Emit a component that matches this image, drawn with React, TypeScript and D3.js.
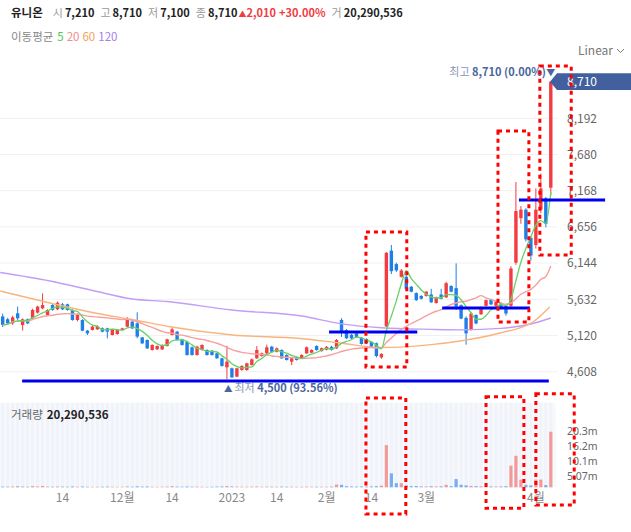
import React from 'react';
import * as d3 from 'd3';

// ---- data ----
const opens = [5390,5350,5292,5434,5269,5349,5363,5443,5504,5410,5551,5490,5561,5561,5481,5339,5339,5188,5198,5207,5221,5221,5127,5141,5198,5245,5316,5292,5094,5056,4915,4924,4924,4972,5127,5174,5066,5033,4953,4844,4915,4915,4905,4868,4797,4670,4656,4538,4632,4632,4703,4797,4830,4868,4962,4891,4915,4844,4750,4811,4797,4868,4877,4972,4900,4920,4960,4938,5340,5197,5130,5150,5090,5070,5030,5010,4810,5250,6320,6130,5950,5950,5810,5720,5680,5680,5700,5580,5700,5660,5820,5790,5550,5370,5200,5410,5420,5540,5630,5540,5580,5540,5540,6150,6780,6900,6500,6400,6900,7060,7210];
const highs = [5430,5370,5400,5528,5360,5360,5500,5540,5716,5490,5570,5600,5580,5570,5490,5430,5350,5198,5260,5265,5235,5230,5215,5205,5230,5380,5330,5448,5100,5065,4995,4980,4995,5075,5230,5185,5075,5045,4965,4975,4995,4925,4915,4875,4805,4976,4665,4665,4700,4735,4795,4970,4880,4990,4975,4950,4925,4855,4805,4820,4855,4965,4925,4980,4950,4970,4975,5070,5365,5210,5140,5160,5100,5080,5040,5020,4870,6300,6400,6150,6060,5970,5820,5730,5690,5750,5780,5670,5780,5880,5830,6140,5560,5390,5450,5420,5530,5630,5640,5610,5590,5550,6100,7290,6950,6920,6520,7200,7410,7080,8710];
const lows = [5240,5270,5270,5340,5190,5280,5350,5430,5490,5400,5470,5480,5480,5470,5330,5320,5180,5127,5190,5200,5165,5080,5120,5130,5190,5240,5210,5080,5000,4930,4905,4915,4915,4965,5120,5045,4975,4835,4835,4835,4905,4835,4835,4790,4680,4500,4520,4530,4620,4620,4695,4790,4820,4860,4880,4880,4790,4765,4700,4765,4790,4860,4870,4905,4890,4910,4905,4930,5100,5070,5070,5090,4990,5000,4950,4810,4790,5240,5990,6020,5940,5760,5730,5610,5630,5670,5580,5570,5630,5650,5730,5480,5350,4990,5190,5280,5410,5530,5550,5530,5490,5400,5520,6120,6700,6450,6180,6350,6850,6650,7100];
const closes = [5270,5290,5377,5363,5349,5292,5481,5528,5551,5481,5481,5584,5490,5481,5339,5410,5188,5151,5245,5254,5174,5174,5207,5198,5221,5339,5221,5104,5009,4938,4986,4972,4986,5066,5207,5056,4986,4844,4844,4962,4986,4844,4844,4797,4689,4750,4528,4656,4689,4726,4783,4915,4868,4953,4891,4938,4797,4774,4797,4774,4844,4953,4915,4915,4940,4960,4915,5056,5170,5080,5080,5100,5000,5010,4960,4830,4860,6290,6030,6040,6040,5780,5740,5620,5640,5740,5590,5660,5640,5860,5740,5530,5360,5150,5430,5290,5520,5620,5560,5600,5500,5430,6069,6880,6900,6480,6250,6900,7200,6700,8710];
// volume in millions of shares
const volumes = [0.25,0.2,0.3,0.35,0.3,0.2,0.45,0.3,0.5,0.25,0.2,0.3,0.25,0.2,0.3,0.2,0.3,0.2,0.15,0.2,0.2,0.25,0.2,0.15,0.2,0.3,0.2,0.35,0.25,0.3,0.2,0.15,0.2,0.25,0.4,0.25,0.2,0.3,0.2,0.25,0.2,0.15,0.2,0.25,0.3,0.45,0.3,0.25,0.2,0.2,0.25,0.3,0.2,0.25,0.2,0.2,0.25,0.2,0.2,0.15,0.2,0.25,0.2,0.2,0.2,0.2,0.25,1.0,0.9,0.4,0.3,0.25,0.3,0.25,0.3,0.4,0.6,15.4,5.1,1.5,1.5,0.7,0.4,0.45,0.3,0.3,0.4,0.3,0.35,0.9,0.4,3.0,0.9,0.7,0.5,0.4,0.35,0.3,0.3,0.3,0.3,0.4,7.9,11.5,2.8,0.9,0.7,2.8,2.8,0.8,20.29];
const ma60Idx = [-0.5,9.5,18.5,26.5,33.6,46.2,59.7,67.7,76,86.4,91.8,99.8,106.4,109.8];
const ma60Val = [5749,5579,5438,5339,5244,5127,5077,5014,4950,4995,5042,5155,5311,5523];
const ma120Idx = [-0.5,9.5,18.5,26,33,46,60,68,76,86,92,100,106,110];
const ma120Val = [6011,5891,5749,5636,5601,5480,5395,5285,5230,5207,5200,5221,5282,5367];
const xTickIdx = [12,24,34,46,55,65,74,85,107];
const xTickLabels = ['14','12월','14','2023','14','2월','14','3월','4월'];
const priceTicks = [8192,7680,7168,6656,6144,5632,5120,4608];
const volTickLabels = ['20.3m','16.2m','10.1m','5.07m'];
const lastVolume = 20.29;
// annotations in data units: [idxStart, idxEnd, price]
const blueLines = [[3.9,109.6,4476],[65.5,83.2,5169],[88.2,105.8,5509],[103.6,120.9,7036]];
// [idxStart, idxEnd, priceTop, priceBottom]
const priceBoxes = [[72.9,81.1,6584,4674],[99.4,105.6,8012,5311],[107.8,114.1,8931,6258]];
// [idxStart, idxEnd, volTop, volBottom]
const volBoxes = [[72.9,80.9,32.6,-9.7],[97.0,104.6,33.0,-7.6],[107.0,114.7,34.1,-6.5]];

const RED = '#f23c41';
const BLUE = '#1e7fe6';
const FONT = "'Noto Sans CJK KR', 'Noto Sans', sans-serif";

export default function App() {
  const x = d3.scaleLinear().domain([0, 110]).range([2.7, 550.8]);
  const y = d3.scaleLinear().domain([4608, 8192]).range([371.7, 118.3]);
  const yv = d3.scaleLinear().domain([0, lastVolume]).range([487.3, 431.7]);
  const fmt = d3.format(',');

  const ma = (n: number) => closes.map((_, i) => [i, d3.mean(closes.slice(Math.max(0, i - n + 1), i + 1)) as number]);
  const line = d3.line<number[]>().x(d => x(d[0])).y(d => y(d[1])).curve(d3.curveMonotoneX);
  const ma60 = ma60Idx.map((v, i) => [v, ma60Val[i]]);
  const ma120 = ma120Idx.map((v, i) => [v, ma120Val[i]]);

  const last = closes.length - 1;

  return (
    <svg width={631} height={532} style={{ position: 'absolute', left: 0, top: 0, background: '#fff' }} fontFamily={FONT}>
      {/* header */}
      <text x={11} y={17} fontSize={11}>
        <tspan fontWeight="bold" fill="#222" fontSize={11.5}>유니온</tspan>
        <tspan dx={10} fill="#999">시</tspan><tspan dx={2} fill="#222" fontWeight={600}>7,210</tspan>
        <tspan dx={6} fill="#999">고</tspan><tspan dx={2} fill="#222" fontWeight={600}>8,710</tspan>
        <tspan dx={6} fill="#999">저</tspan><tspan dx={2} fill="#222" fontWeight={600}>7,100</tspan>
        <tspan dx={6} fill="#999">종</tspan><tspan dx={2} fill="#222" fontWeight={600}>8,710</tspan>
        <tspan dx={1} fill={RED} fontSize={8}>▲</tspan>
        <tspan dx={0} fill={RED} fontWeight={600}>2,010</tspan>
        <tspan dx={3} fill={RED} fontWeight={600}>+30.00%</tspan>
        <tspan dx={6} fill="#999">거</tspan><tspan dx={2} fill="#222" fontWeight={600}>20,290,536</tspan>
      </text>
      <text x={11} y={41} fontSize={11.5}>
        <tspan fill="#888">이동평균</tspan>
        <tspan dx={4} fill="#4cc94c">5</tspan>
        <tspan dx={3} fill="#f48a8a">20</tspan>
        <tspan dx={3} fill="#f5a25d">60</tspan>
        <tspan dx={3} fill="#a77cf0">120</tspan>
      </text>
      <text x={578} y={55} fontSize={12} fill="#777">Linear</text>
      <polyline points="617,49 620.5,52.5 624,49" fill="none" stroke="#777" strokeWidth={1} />

      {/* grid */}
      {priceTicks.map(t => (
        <line key={t} x1={0} x2={558} y1={y(t)} y2={y(t)} stroke="#f1f1f1" strokeWidth={1} />
      ))}
      {priceTicks.map(t => (
        <text key={'l' + t} x={567} y={y(t)} dy="0.35em" fontSize={12} fill="#666">{fmt(t)}</text>
      ))}

      {/* volume panel background */}
      <rect x={0} y={402.7} width={556} height={84.6} fill="#f8f9fc" />
      {closes.map((_, i) => (
        <rect key={'s' + i} x={x(i) - 1.6} y={402.7} width={3.2} height={84.6} fill="#f0f3f9" />
      ))}
      <text x={11} y={419} fontSize={11.5}>
        <tspan fill="#666">거래량</tspan>
        <tspan dx={4} fill="#222" fontWeight="bold">20,290,536</tspan>
      </text>
      {volumes.map((v, i) => {
        const up = closes[i] >= opens[i];
        return <rect key={'v' + i} x={x(i) - 1.6} width={3.2} y={yv(v)} height={yv(0) - yv(v)} fill={up ? '#f29a9a' : '#77aef0'} />;
      })}
      {volTickLabels.map((t, i) => (
        <text key={'vt' + i} x={567} y={yv(lastVolume) + i * 15} dy="0.35em" fontSize={10.5} fontFamily="'Noto Sans', sans-serif" fill="#666">{t}</text>
      ))}

      {/* x axis labels */}
      {xTickIdx.map((t, i) => (
        <text key={'x' + i} x={x(t)} y={502} textAnchor="middle" fontSize={12} fill="#888">{xTickLabels[i]}</text>
      ))}

      {/* candles */}
      {opens.map((o, i) => {
        const c = closes[i];
        const col = c >= o ? RED : BLUE;
        const cx = x(i);
        const top = y(Math.max(o, c));
        const bot = y(Math.min(o, c));
        return (
          <g key={'c' + i}>
            <line x1={cx} x2={cx} y1={y(highs[i])} y2={y(lows[i])} stroke={col} strokeWidth={1} />
            <rect x={cx - 1.7} width={3.4} y={top} height={Math.max(1, bot - top)} fill={col} />
          </g>
        );
      })}

      {/* moving averages */}
      <path d={line(ma120) || ''} fill="none" stroke="#c39df6" strokeWidth={1.4} />
      <path d={line(ma60) || ''} fill="none" stroke="#f9b47c" strokeWidth={1.4} />
      <path d={line(ma(20)) || ''} fill="none" stroke="#f7a0a0" strokeWidth={1.4} />
      <path d={line(ma(5)) || ''} fill="none" stroke="#66d266" strokeWidth={1.3} />

      {/* high / low markers */}
      <text y={y(8710) - 6} fontSize={11} textAnchor="end" x={546}>
        <tspan fill="#8797b8">최고 </tspan>
        <tspan fill="#4a66a0" fontWeight="bold">{fmt(highs[last])} (0.00%)</tspan>
      </text>
      <text x={x(last)} y={y(8710) - 6} fontSize={9} textAnchor="middle" fill="#4a66a0">▼</text>
      <text x={x(45) - 3} y={392} fontSize={11}>
        <tspan fill="#4a66a0" fontSize={8.5}>▲</tspan>
        <tspan fill="#8797b8" dx={2}>최저 </tspan>
        <tspan fill="#4a66a0" fontWeight="bold">4,500 (93.56%)</tspan>
      </text>

      {/* current price tag */}
      <polygon points={`550,${y(8710)} 557,${y(8710) - 8.4} 631,${y(8710) - 8.4} 631,${y(8710) + 8.4} 557,${y(8710) + 8.4}`} fill="#42609e" />
      <text x={567} y={y(8710)} dy="0.36em" fontSize={12} fill="#fff">{fmt(closes[last])}</text>

      {/* annotations */}
      {blueLines.map((b, i) => (
        <line key={'b' + i} x1={x(b[0])} x2={x(b[1])} y1={y(b[2])} y2={y(b[2])} stroke="#0000f0" strokeWidth={3} />
      ))}
      {priceBoxes.map((r, i) => (
        <rect key={'r' + i} x={x(r[0])} y={y(r[2])} width={x(r[1]) - x(r[0])} height={y(r[3]) - y(r[2])} fill="none" stroke="#f00" strokeWidth={3} strokeDasharray="4 4" />
      ))}
      {volBoxes.map((r, i) => (
        <rect key={'vb' + i} x={x(r[0])} y={yv(r[2])} width={x(r[1]) - x(r[0])} height={yv(r[3]) - yv(r[2])} fill="none" stroke="#f00" strokeWidth={3} strokeDasharray="4 4" />
      ))}
    </svg>
  );
}
